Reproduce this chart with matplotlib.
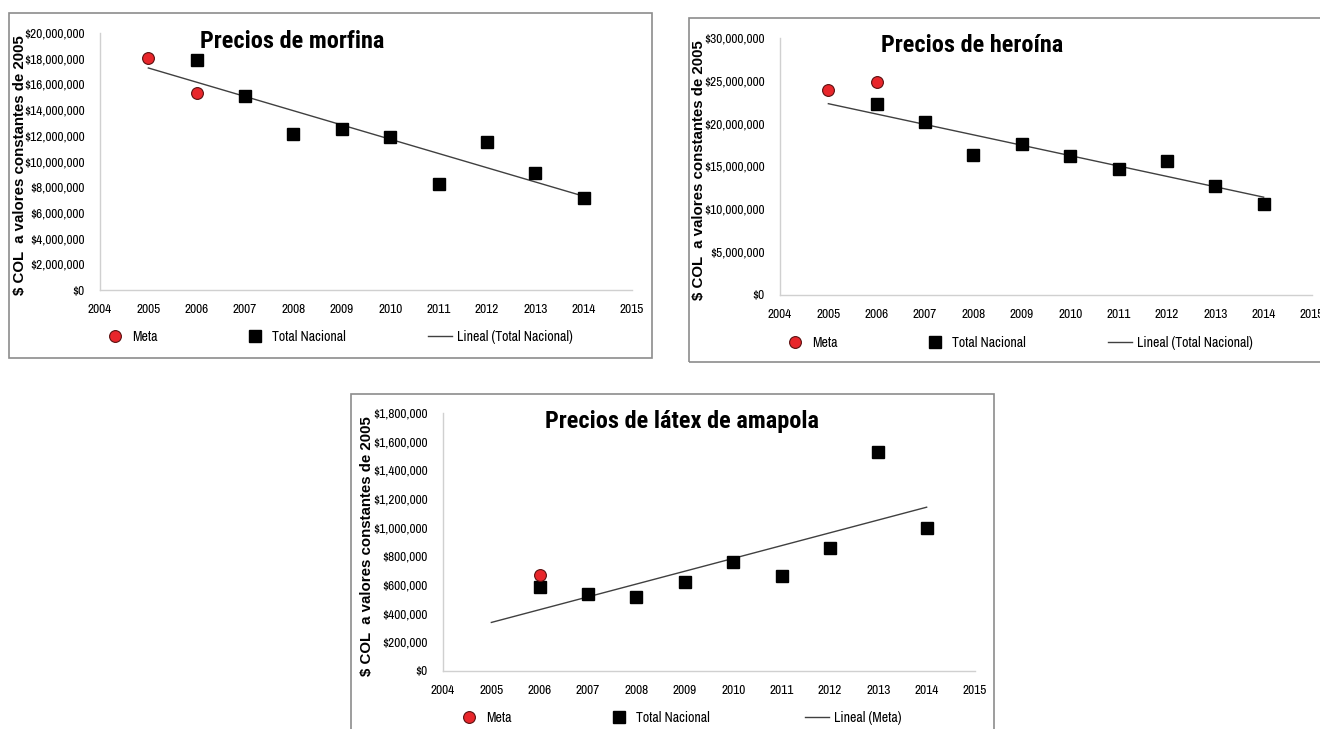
import numpy as np
import matplotlib
matplotlib.use("Agg")
import matplotlib.pyplot as plt
from matplotlib.patches import Rectangle
from matplotlib.ticker import FuncFormatter, MultipleLocator
from matplotlib.lines import Line2D

# ---------------- data ----------------
years_total = [2006, 2007, 2008, 2009, 2010, 2011, 2012, 2013, 2014]

morfina_meta_years = [2005, 2006]
morfina_meta = [18050000, 15350000]
morfina_total = [17920000, 15080000, 12110000, 12550000, 11930000, 8260000, 11510000, 9110000, 7140000]

heroina_meta_years = [2005, 2006]
heroina_meta = [23950000, 24850000]
heroina_total = [22240000, 20140000, 16380000, 17620000, 16260000, 14670000, 15680000, 12770000, 10670000]

latex_meta_years = [2006]
latex_meta = [667000]
latex_total = [587000, 534000, 517000, 620000, 762000, 664000, 855000, 1530000, 1000000]

titles = ["Precios de morfina", "Precios de heroína", "Precios de látex de amapola"]
trend_labels = ["Lineal (Total Nacional)", "Lineal (Total Nacional)", "Lineal (Meta)"]
ylabel = "$ COL  a valores constantes de 2005"
x_ticks = list(range(2004, 2016))

W, H = 1320, 729
fig = plt.figure(figsize=(W / 100, H / 100), dpi=100)
fig.patch.set_facecolor("white")

NARROW = ["Archivo Narrow", "Roboto Condensed", "DejaVu Sans"]
TITLEF = ["Roboto Condensed", "DejaVu Sans"]
BOLD = ["Liberation Sans", "DejaVu Sans"]

def fig_rect(l, t, r, b):
    return [l / W, 1 - b / H, (r - l) / W, (b - t) / H]

def frame(l, t, r, b):
    fig.patches.append(Rectangle((l / W, 1 - b / H), (r - l) / W, (b - t) / H,
                                 transform=fig.transFigure, fill=False,
                                 edgecolor="#8c8c8c", linewidth=1.2, zorder=0))

panels = [
    dict(frame=(9, 13, 652, 358), ax=(100, 33, 632, 290), ymax=20000000, ystep=2000000,
         meta_x=morfina_meta_years, meta=morfina_meta, total=morfina_total,
         title=(292, 48), ylab_x=-73, leg=((103, 243, 428), 337)),
    dict(frame=(689, 18, 1340, 362), ax=(780, 38, 1312, 295), ymax=30000000, ystep=5000000,
         meta_x=heroina_meta_years, meta=heroina_meta, total=heroina_total,
         title=(972, 52), ylab_x=-74, leg=((783, 923, 1108), 343)),
    dict(frame=(351, 394, 994, 760), ax=(443, 413, 975, 671), ymax=1800000, ystep=200000,
         meta_x=latex_meta_years, meta=latex_meta, total=latex_total,
         title=(682, 428), ylab_x=-69, leg=((457, 607, 805), 718)),
]

fmt = FuncFormatter(lambda v, p: "${:,.0f}".format(v))

for i, p in enumerate(panels):
    frame(*p["frame"])
    l, t, r, b = p["ax"]
    ax = fig.add_axes(fig_rect(l, t, r, b))
    ax.set_xlim(2004, 2015)
    ax.set_ylim(0, p["ymax"])
    ax.set_xticks(x_ticks)
    ax.yaxis.set_major_locator(MultipleLocator(p["ystep"]))
    ax.yaxis.set_major_formatter(fmt)
    for s in ["top", "right"]:
        ax.spines[s].set_visible(False)
    for s in ["left", "bottom"]:
        ax.spines[s].set_color("#d0d0d0")
        ax.spines[s].set_linewidth(1.0)
    ax.tick_params(axis="both", length=0, labelsize=9.6, colors="#000000")
    ax.tick_params(axis="y", pad=11)
    ax.tick_params(axis="x", pad=10)
    for lab in ax.get_xticklabels() + ax.get_yticklabels():
        lab.set_family(NARROW)
    ax.set_facecolor("none")

    # trend line on Total Nacional, extended back to 2005
    coef = np.polyfit(years_total, p["total"], 1)
    tx = np.array([2005, 2014])
    ax.plot(tx, np.polyval(coef, tx), color="#404040", linewidth=1.0, zorder=2)

    ax.plot(years_total, p["total"], linestyle="none", marker="s", markersize=9,
            color="black", zorder=3, clip_on=False)
    ax.plot(p["meta_x"], p["meta"], linestyle="none", marker="o", markersize=8.5,
            markerfacecolor="#e8262b", markeredgecolor="#5a1010", markeredgewidth=0.8,
            zorder=4, clip_on=False)

    tx_, ty_ = p["title"]
    fig.text(tx_ / W, 1 - ty_ / H, titles[i], ha="center", va="baseline",
             fontsize=17.5, fontweight="bold", family=TITLEF)

    ax.set_ylabel(ylabel, fontsize=10.8, fontweight="bold", family=BOLD)
    ax.yaxis.set_label_coords(p["ylab_x"] / (r - l), 0.485)

    handles = [
        Line2D([], [], linestyle="none", marker="o", markersize=8.5,
               markerfacecolor="#e8262b", markeredgecolor="#5a1010", markeredgewidth=0.8),
        Line2D([], [], linestyle="none", marker="s", markersize=8, color="black"),
        Line2D([], [], color="#404040", linewidth=1.0),
    ]
    labels = ["Meta", "Total Nacional", trend_labels[i]]
    xs, ly = p["leg"]
    for h, lab, lx in zip(handles, labels, xs):
        fig.legend([h], [lab], loc="center left", bbox_to_anchor=(lx / W, 1 - ly / H),
                   bbox_transform=fig.transFigure, frameon=False, borderpad=0,
                   borderaxespad=0, handlelength=1.75, handletextpad=0.35,
                   prop={"family": NARROW, "size": 10})

fig.savefig("out.png", dpi=100, facecolor="white")
